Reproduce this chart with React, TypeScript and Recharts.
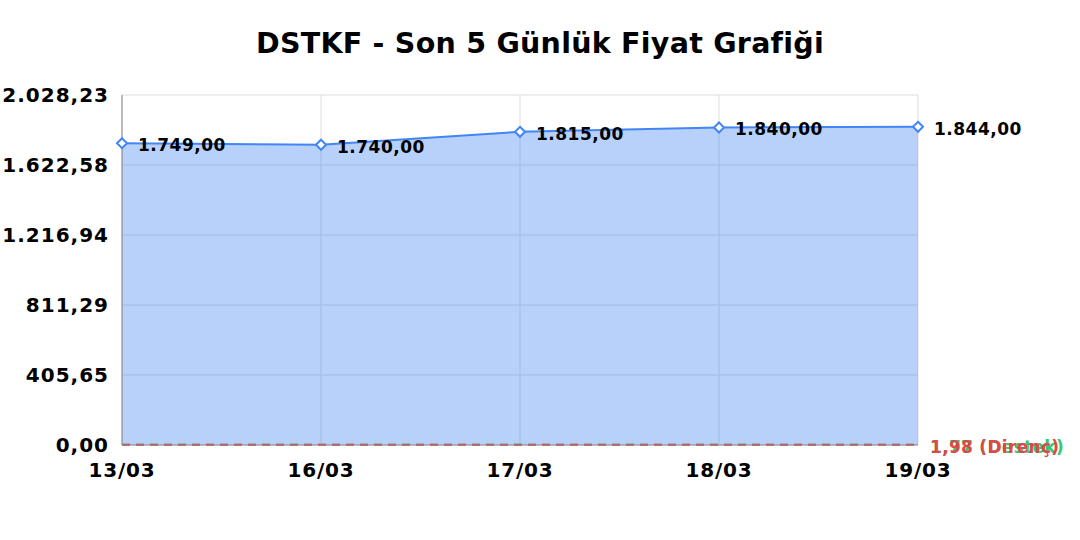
import { Area, AreaChart, CartesianGrid, LabelList, ReferenceLine, XAxis, YAxis } from 'recharts'

const dates = ['13/03', '16/03', '17/03', '18/03', '19/03']
const prices = [1749, 1740, 1815, 1840, 1844]
const yTicks = [0, 405.65, 811.29, 1216.94, 1622.58, 2028.23]
const supportLevel = 1.77
const resistanceLevel = 1.98

const data = dates.map((date, i) => ({ date, price: prices[i] }))

const FONT = "'DejaVu Sans', sans-serif"
const BLUE = '#4285f4'
const RED = '#e04848'
const GREEN = '#2ecc71'

// Turkish number format: 1.749,00
function trFormat(value: number) {
  const [intPart, dec] = value.toFixed(2).split('.')
  const withDots = intPart.replace(/\B(?=(\d{3})+(?!\d))/g, '.')
  return `${withDots},${dec}`
}

function DiamondDot(props: any) {
  const { cx, cy } = props
  if (cx == null || cy == null) return null
  const r = 5
  return (
    <path
      d={`M${cx},${cy - r} L${cx + r},${cy} L${cx},${cy + r} L${cx - r},${cy} Z`}
      fill='#fff'
      stroke={BLUE}
      strokeWidth={2}
    />
  )
}

function PriceLabel(props: any) {
  const { x, y, value } = props
  return (
    <text
      x={x + 16}
      y={y + 3}
      fontFamily={FONT}
      fontSize={17}
      fontWeight='bold'
      letterSpacing={0.5}
      fill='#000'
      dominantBaseline='middle'
    >
      {trFormat(value)}
    </text>
  )
}

function levelLabel(text: string, color: string) {
  return (props: any) => {
    const { viewBox } = props
    return (
      <text
        x={viewBox.x + viewBox.width + 12}
        y={viewBox.y + 3}
        fontFamily={FONT}
        fontSize={17}
        fontWeight='bold'
        letterSpacing={0.3}
        fill={color}
        dominantBaseline='middle'
      >
        {text}
      </text>
    )
  }
}

export default function App() {
  return (
    <div style={{ position: 'absolute', left: 0, top: 0, width: 1080, height: 540, background: '#fff' }}>
      <div
        style={{
          position: 'absolute',
          top: 27,
          left: 0,
          width: 1080,
          textAlign: 'center',
          fontFamily: FONT,
          fontWeight: 'bold',
          fontSize: 28.5,
          letterSpacing: 0.25,
          color: '#000',
        }}
      >
        DSTKF - Son 5 Günlük Fiyat Grafiği
      </div>
      <AreaChart width={1080} height={540} data={data} margin={{ top: 95, right: 162, bottom: 65, left: 12 }}>
        <CartesianGrid stroke='#dddddd' />
        <XAxis
          dataKey='date'
          scale='point'
          padding={{ left: 0, right: 0 }}
          height={30}
          axisLine={{ stroke: '#888' }}
          tickLine={false}
          tickMargin={12}
          tick={{ fontFamily: FONT, fontSize: 20, fontWeight: 'bold', fill: '#000', letterSpacing: 0.8 }}
        />
        <YAxis
          type='number'
          domain={[0, 2028.23]}
          ticks={yTicks}
          width={110}
          axisLine={{ stroke: '#888' }}
          tickLine={false}
          tickMargin={7}
          tickFormatter={trFormat}
          tick={{ fontFamily: FONT, fontSize: 20, fontWeight: 'bold', fill: '#000', letterSpacing: 1 }}
        />
        <Area
          type='linear'
          dataKey='price'
          stroke={BLUE}
          strokeWidth={2}
          fill={BLUE}
          fillOpacity={0.38}
          dot={<DiamondDot />}
          activeDot={false}
          isAnimationActive={false}
        >
          <LabelList dataKey='price' content={<PriceLabel />} />
        </Area>
        <ReferenceLine
          y={supportLevel}
          stroke={GREEN}
          strokeWidth={2}
          strokeDasharray='8 6'
          label={levelLabel(`${trFormat(supportLevel)} (Destek)`, GREEN)}
        />
        <ReferenceLine
          y={resistanceLevel}
          stroke={RED}
          strokeWidth={2}
          strokeDasharray='8 6'
          label={levelLabel(`${trFormat(resistanceLevel)} (Direnç)`, RED)}
        />
      </AreaChart>
    </div>
  )
}
